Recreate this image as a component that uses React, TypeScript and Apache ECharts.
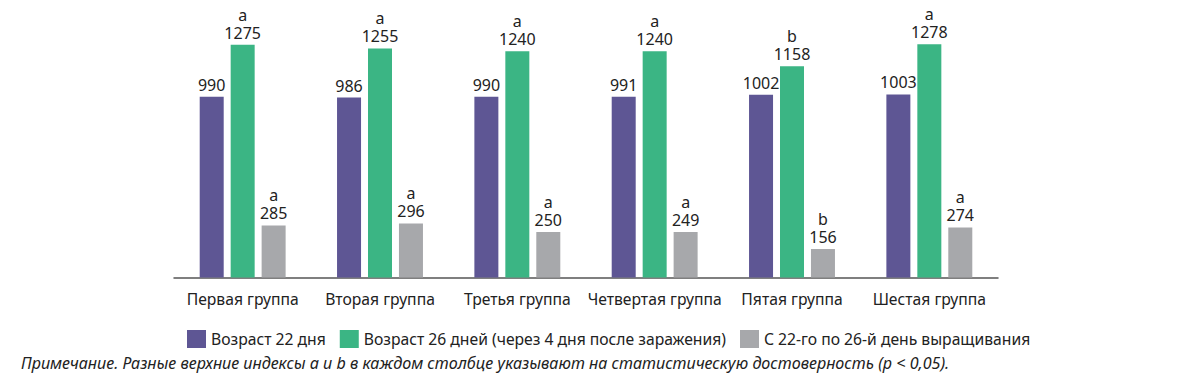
import React, { useEffect, useRef } from "react";
import * as echarts from "echarts";

const categories = [
  "Первая группа",
  "Вторая группа",
  "Третья группа",
  "Четвертая группа",
  "Пятая группа",
  "Шестая группа",
];
const seriesNames = [
  "Возраст 22 дня",
  "Возраст 26 дней (через 4 дня после заражения)",
  "С 22-го по 26-й день выращивания",
];
const age22 = [990, 986, 990, 991, 1002, 1003];
const age26 = [1275, 1255, 1240, 1240, 1158, 1278];
const gain = [285, 296, 250, 249, 156, 274];
const age26Letters = ["a", "a", "a", "a", "b", "a"];
const gainLetters = ["a", "a", "a", "a", "b", "a"];
const note =
  "Примечание. Разные верхние индексы a и b в каждом столбце указывают на статистическую достоверность (p < 0,05).";

const FONT = "'Noto Sans', sans-serif";
const COLORS = ["#5e5694", "#3bb584", "#a7a8ab"];

export default function App() {
  const ref = useRef<HTMLDivElement>(null);
  useEffect(() => {
    document.body.style.margin = "0";
    if (!ref.current) return;
    const chart = echarts.init(ref.current, undefined, { renderer: "svg" });
    const rich = {
      l: { fontFamily: FONT, fontSize: 16, color: "#222", lineHeight: 18 },
      v: { fontFamily: FONT, fontSize: 16, color: "#222", lineHeight: 18 },
    };
    const mkLabel = (letters: string[] | null) => ({
      show: true,
      position: "top",
      distance: 3,
      formatter: (p: any) =>
        letters ? `{l|${letters[p.dataIndex]}}\n{v|${p.value}}` : `{v|${p.value}}`,
      rich,
    });
    chart.setOption({
      animation: false,
      color: COLORS,
      grid: { left: 174, right: 202, top: 22, bottom: 104.5 },
      xAxis: {
        type: "category",
        data: categories,
        axisLine: { lineStyle: { color: "#555", width: 1.5 } },
        axisTick: { show: false },
        axisLabel: {
          interval: 0,
          fontFamily: FONT,
          fontSize: 15.7,
          color: "#222",
          margin: 13,
        },
      },
      yAxis: { type: "value", min: 0, max: 1400, show: false, splitLine: { show: false } },
      legend: {
        left: 182,
        top: 325,
        itemWidth: 19,
        itemHeight: 18,
        itemGap: 14,
        icon: "rect",
        textStyle: { fontFamily: FONT, fontSize: 15.7, color: "#222" },
        data: seriesNames,
      },
      series: [
        {
          name: seriesNames[0],
          type: "bar",
          data: age22,
          barWidth: 24,
          barGap: "29%",
          label: mkLabel(null),
        },
        {
          name: seriesNames[1],
          type: "bar",
          data: age26,
          barWidth: 24,
          barGap: "29%",
          label: mkLabel(age26Letters),
        },
        {
          name: seriesNames[2],
          type: "bar",
          data: gain,
          barWidth: 24,
          barGap: "29%",
          label: mkLabel(gainLetters),
        },
      ],
      graphic: [
        {
          type: "text",
          left: 21,
          top: 355,
          style: {
            text: note,
            fontFamily: FONT,
            fontSize: 16.1,
            fontStyle: "italic",
            fill: "#222",
          },
        },
      ],
    });
    return () => chart.dispose();
  }, []);
  return <div ref={ref} style={{ width: 1200, height: 382 }} />;
}
